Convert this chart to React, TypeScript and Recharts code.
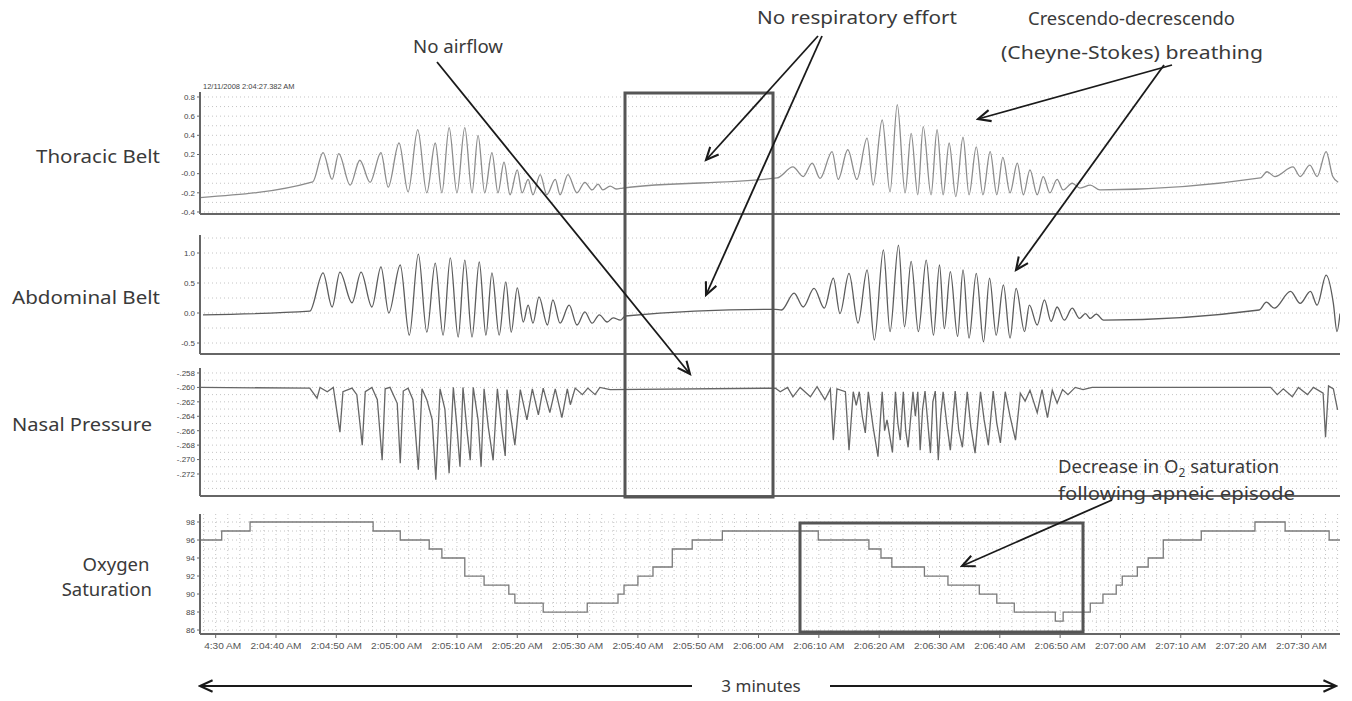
import React from "react";
import { LineChart, Line, XAxis, YAxis, CartesianGrid } from "recharts";

// time axis: seconds after 2:04:00 AM
const T_START = 27.4;
const T_END = 216.4;
const timeTicks = [30, 40, 50, 60, 70, 80, 90, 100, 110, 120, 130, 140, 150, 160, 170, 180, 190, 200, 210];

// [seconds, value]
const thoracic: [number, number][] = [
  [27.4, -0.25], [46.1, -0.085], [47.8, 0.22], [49.3, -0.06], [50.4, 0.21], [52.3, -0.12], [53.9, 0.14],
  [55.6, -0.09], [57.4, 0.22], [58.6, -0.14], [60.4, 0.32], [61.9, -0.19], [63.5, 0.46], [65.0, -0.2],
  [66.4, 0.32], [67.5, -0.2], [68.7, 0.48], [70.0, -0.2], [71.3, 0.48], [72.5, -0.2], [73.5, 0.4],
  [74.6, -0.2], [75.8, 0.22], [76.8, -0.2], [77.8, 0.12], [78.8, -0.22], [80.0, 0.04], [80.8, -0.2],
  [81.8, -0.06], [82.6, -0.22], [83.8, -0.01], [84.9, -0.22], [86.3, -0.06], [87.1, -0.22], [88.4, -0.01],
  [89.9, -0.2], [91.2, -0.09], [92.4, -0.17], [93.4, -0.11], [94.2, -0.17], [95.4, -0.13], [96.4, -0.16],
  [97.5, -0.15], [123.1, -0.045], [125.7, 0.07], [127.4, -0.03], [128.9, 0.11], [130.2, -0.05],
  [132.2, 0.23], [133.2, -0.06], [134.8, 0.25], [136.3, -0.06], [138.0, 0.37], [139.0, -0.12],
  [140.5, 0.56], [141.8, -0.19], [143.0, 0.72], [144.3, -0.2], [145.3, 0.42], [146.4, -0.22],
  [147.3, 0.49], [148.6, -0.22], [149.6, 0.46], [150.6, -0.22], [151.6, 0.32], [152.7, -0.24],
  [153.9, 0.38], [154.9, -0.22], [156.1, 0.28], [157.2, -0.22], [158.4, 0.23], [159.5, -0.22],
  [160.5, 0.17], [161.7, -0.2], [162.9, 0.11], [163.9, -0.22], [165.0, 0.04], [166.2, -0.22],
  [167.2, -0.03], [168.3, -0.2], [169.5, -0.06], [170.5, -0.17], [172.0, -0.1], [173.3, -0.15],
  [175.0, -0.12], [176.6, -0.17], [203.2, -0.045], [204.3, 0.02], [205.6, -0.03], [208.6, 0.07],
  [209.8, -0.03], [211.4, 0.09], [212.6, -0.03], [214.1, 0.23], [215.2, -0.03], [216.1, -0.09],
];

const abdominal: [number, number][] = [
  [27.9, -0.03], [45.6, 0.03], [47.8, 0.67], [49.3, 0.1], [50.6, 0.68], [52.6, 0.17], [54.1, 0.68],
  [55.9, 0.1], [57.4, 0.77], [58.7, 0.0], [60.6, 0.8], [62.1, -0.37], [63.6, 0.98], [65.0, -0.32],
  [66.4, 0.83], [67.7, -0.37], [68.9, 0.92], [70.2, -0.4], [71.3, 0.88], [72.5, -0.4], [73.7, 0.85],
  [74.8, -0.37], [75.8, 0.67], [77.0, -0.37], [78.1, 0.52], [79.0, -0.32], [80.0, 0.42], [81.0, -0.15],
  [81.8, 0.13], [82.6, -0.17], [83.6, 0.27], [85.0, -0.2], [85.9, 0.22], [87.1, -0.17], [88.6, 0.13],
  [89.9, -0.2], [91.2, 0.02], [92.4, -0.17], [93.6, -0.03], [94.9, -0.15], [95.9, -0.08], [97.1, -0.12],
  [97.9, -0.05], [122.8, 0.06], [123.8, 0.05], [125.9, 0.33], [127.4, 0.1], [129.2, 0.41], [130.9, 0.08],
  [132.4, 0.58], [133.5, -0.01], [135.0, 0.66], [136.5, -0.17], [138.0, 0.72], [139.2, -0.45],
  [140.7, 1.05], [141.8, -0.31], [143.2, 1.13], [144.2, -0.23], [145.3, 0.86], [146.5, -0.31],
  [147.8, 0.88], [149.0, -0.37], [150.0, 0.8], [150.8, -0.26], [151.8, 0.69], [153.0, -0.39],
  [153.9, 0.72], [154.9, -0.42], [156.1, 0.66], [157.3, -0.48], [158.3, 0.58], [159.4, -0.37],
  [160.6, 0.47], [161.7, -0.42], [162.7, 0.41], [164.1, -0.31], [164.9, 0.13], [166.2, -0.2],
  [167.4, 0.22], [168.5, -0.14], [169.5, 0.1], [170.7, -0.12], [172.0, 0.08], [173.2, -0.09],
  [174.2, -0.01], [175.0, -0.09], [176.0, -0.02], [177.2, -0.12], [203.0, 0.05], [204.2, 0.18],
  [205.5, 0.08], [208.2, 0.36], [209.8, 0.16], [211.5, 0.36], [212.6, 0.13], [214.1, 0.63],
  [215.3, 0.16], [215.9, -0.31], [216.4, -0.01],
];

const nasal: [number, number][] = [
  [27.4, -0.26], [45.6, -0.2601], [46.8, -0.2615], [47.3, -0.26], [48.5, -0.2606], [49.5, -0.26],
  [50.6, -0.2662], [51.1, -0.2606], [52.6, -0.2601], [53.4, -0.261], [54.3, -0.268], [54.8, -0.2606],
  [55.9, -0.26], [56.8, -0.2617], [57.6, -0.2701], [58.1, -0.2602], [58.9, -0.26], [60.1, -0.2622],
  [60.6, -0.2705], [61.1, -0.2605], [61.9, -0.2601], [62.7, -0.2617], [63.6, -0.2714], [64.2, -0.2602],
  [65.0, -0.2617], [65.9, -0.2645], [66.5, -0.2728], [67.2, -0.2602], [68.0, -0.263], [68.7, -0.2719],
  [69.4, -0.26], [70.0, -0.2655], [70.5, -0.271], [71.0, -0.26], [71.7, -0.2663], [72.2, -0.2701],
  [72.7, -0.26], [73.5, -0.2645], [74.0, -0.271], [74.5, -0.2602], [75.2, -0.2655], [76.0, -0.2701],
  [76.7, -0.2602], [77.5, -0.2663], [78.0, -0.2695], [78.3, -0.2603], [79.6, -0.268], [80.5, -0.2603],
  [81.6, -0.2645], [82.5, -0.2602], [83.5, -0.2638], [84.3, -0.2601], [85.4, -0.2635], [86.3, -0.2602],
  [87.4, -0.2642], [88.3, -0.2602], [88.8, -0.2624], [89.6, -0.2601], [90.8, -0.261], [91.7, -0.2601],
  [92.9, -0.261], [93.7, -0.26], [95.4, -0.2603], [122.8, -0.2601], [123.6, -0.2606], [124.8, -0.26],
  [125.7, -0.2613], [126.9, -0.26], [128.6, -0.2613], [129.7, -0.2599], [131.0, -0.2617], [131.9, -0.2602],
  [132.4, -0.2673], [133.0, -0.2602], [134.4, -0.2606], [135.0, -0.2687], [135.7, -0.2606], [136.2, -0.2625],
  [136.7, -0.2606], [137.2, -0.2640], [137.7, -0.2663], [138.2, -0.2606], [139.0, -0.2655], [139.8, -0.2696],
  [140.5, -0.2606], [140.9, -0.2660], [141.3, -0.2645], [142.2, -0.269], [142.7, -0.2606], [143.1, -0.2650],
  [143.5, -0.2673], [144.0, -0.2606], [144.4, -0.2660], [144.8, -0.2683], [145.6, -0.2606], [146.0, -0.264],
  [146.4, -0.2606], [146.8, -0.2687], [147.2, -0.2630], [147.6, -0.2605], [148.5, -0.2691], [148.9, -0.2620],
  [149.3, -0.2605], [149.8, -0.2701], [150.2, -0.2640], [150.6, -0.2606], [151.2, -0.265], [151.8, -0.2687],
  [152.6, -0.2605], [153.2, -0.2660], [153.8, -0.2683], [154.6, -0.2606], [155.2, -0.2655], [155.9, -0.2691],
  [156.8, -0.2606], [157.4, -0.2645], [158.1, -0.268], [158.9, -0.2605], [159.5, -0.265], [160.1, -0.2677],
  [160.9, -0.2606], [161.7, -0.2640], [162.6, -0.2673], [163.4, -0.2608], [164.2, -0.2619], [165.0, -0.2604],
  [166.2, -0.2635], [167.0, -0.2603], [167.9, -0.2642], [168.7, -0.2604], [169.5, -0.2622], [170.4, -0.2603],
  [171.3, -0.261], [172.5, -0.26], [173.8, -0.2603], [175.3, -0.26], [204.9, -0.26], [206.0, -0.261],
  [207.0, -0.2602], [208.5, -0.2613], [209.5, -0.26], [211.0, -0.261], [212.0, -0.26], [213.6, -0.2608],
  [214.0, -0.2669], [214.5, -0.2598], [215.3, -0.2602], [216.0, -0.2631],
];

// SpO2 steps, value holds until the next point
const oxygen: [number, number][] = [
  [27.4, 96], [31.0, 97], [35.7, 98], [56.1, 97], [60.6, 96], [65.4, 95], [67.5, 94], [71.3, 92],
  [74.5, 91], [78.6, 90], [79.6, 89], [84.3, 88], [91.6, 89], [96.7, 90], [97.7, 91], [100.0, 92],
  [102.5, 93], [105.7, 95], [109.0, 96], [114.0, 97], [129.9, 96], [138.3, 95], [140.3, 94], [142.1, 93],
  [147.5, 92], [151.4, 91], [156.6, 90], [159.5, 89], [162.4, 88], [169.2, 87], [170.5, 88], [175.0, 89],
  [177.1, 90], [179.3, 91], [180.3, 92], [182.8, 93], [184.6, 94], [187.1, 96], [193.4, 97], [202.3, 98],
  [207.3, 97], [214.6, 96], [216.4, 96],
];

const thoracicTicks = [-0.4, -0.2, 0, 0.2, 0.4, 0.6, 0.8];
const abdominalTicks = [-0.5, 0, 0.5, 1.0];
const nasalTicks = [-0.272, -0.27, -0.268, -0.266, -0.264, -0.262, -0.26, -0.258];
const oxygenTicks = [86, 88, 90, 92, 94, 96, 98];

const gridTimes: number[] = [];
for (let t = 28; t <= 216; t += 2) gridTimes.push(t);
const steps = (a: number, b: number, d: number) => {
  const out: number[] = [];
  for (let v = a; v <= b + d / 10; v += d) out.push(+v.toFixed(4));
  return out;
};

const fmtTime = (t: number) => {
  const m = 4 + Math.floor(t / 60);
  const s = Math.round(t % 60);
  return `2:0${m}:${s < 10 ? "0" + s : s} AM`;
};

const TimeTick = (props: any) => {
  const { x, y, payload, index } = props;
  const clip = index === 0 ? "url(#firstTickClip)" : undefined;
  return (
    <g>
      {index === 0 && (
        <defs>
          <clipPath id="firstTickClip">
            <rect x={204} y={y - 4} width={60} height={20} />
          </clipPath>
        </defs>
      )}
      <text x={x} y={y + 9} textAnchor="middle" fontSize={9} fill="#555" clipPath={clip}
        textLength={51} lengthAdjust="spacingAndGlyphs"
        fontFamily="Liberation Sans, Arial, sans-serif">
        {fmtTime(payload.value)}
      </text>
    </g>
  );
};

interface TraceProps {
  rows: [number, number][];
  top: number;
  plotHeight: number;
  domain: [number, number];
  ticks: number[];
  gridY: number[];
  fmt: (v: number) => string;
  stroke: string;
  curve: "monotone" | "linear" | "stepAfter";
  bottomAxis?: boolean;
}

const Trace: React.FC<TraceProps> = ({ rows, top, plotHeight, domain, ticks, gridY, fmt, stroke, curve, bottomAxis }) => {
  const data = rows.map(([t, v]) => ({ t, v }));
  const xh = bottomAxis ? 24 : 1;
  return (
    <div style={{ position: "absolute", left: 0, top: top - 4 }}>
      <LineChart width={1352} height={4 + plotHeight + xh + 2} data={data}
        margin={{ top: 4, right: 12, bottom: 2, left: 0 }}>
        <CartesianGrid stroke="#c4c4c4" strokeDasharray="1 3" verticalValues={gridTimes} horizontalValues={gridY} />
        <XAxis dataKey="t" type="number" domain={[T_START, T_END]} allowDataOverflow ticks={timeTicks}
          height={xh} interval={0}
          axisLine={{ stroke: "#666", strokeWidth: 2 }}
          tickLine={bottomAxis ? { stroke: "#666" } : false} tickSize={4}
          tick={bottomAxis ? <TimeTick /> : false} />
        <YAxis type="number" domain={domain} allowDataOverflow ticks={ticks} tickFormatter={fmt} width={200}
          interval={0} axisLine={{ stroke: "#666", strokeWidth: 2 }} tickLine={{ stroke: "#666" }} tickSize={3}
          tick={{ fontSize: 8, fill: "#444", fontFamily: "Liberation Sans, Arial, sans-serif" }} />
        <Line dataKey="v" type={curve} stroke={stroke} strokeWidth={1.3} dot={false} isAnimationActive={false} />
      </LineChart>
    </div>
  );
};

const font = { fontFamily: "Noto Sans, Open Sans, sans-serif", fontSize: 18.5, fill: "#3a3a3a" };
const label = { ...font, lengthAdjust: "spacingAndGlyphs" };

export default function App() {
  return (
    <div style={{ position: "absolute", left: 0, top: 0, width: 1352, height: 701, background: "#fff", overflow: "hidden" }}>
      <Trace rows={thoracic} top={92} plotHeight={122} domain={[-0.421, 0.852]} ticks={thoracicTicks}
        gridY={steps(-0.4, 0.8, 0.1)} fmt={(v) => (v === 0 ? "-0.0" : v.toFixed(1))} stroke="#8c8c8c" curve="monotone" />
      <Trace rows={abdominal} top={235} plotHeight={119} domain={[-0.683, 1.3]} ticks={abdominalTicks}
        gridY={steps(-0.5, 1.25, 0.25)} fmt={(v) => v.toFixed(1)} stroke="#5c5c5c" curve="monotone" />
      <Trace rows={nasal} top={368} plotHeight={128} domain={[-0.27505, -0.25731]} ticks={nasalTicks}
        gridY={steps(-0.274, -0.258, 0.001)} fmt={(v) => v.toFixed(3).replace("0.", ".")} stroke="#666" curve="linear" />
      <Trace rows={oxygen} top={514} plotHeight={120} domain={[85.56, 98.89]} ticks={oxygenTicks}
        gridY={steps(86, 98, 1)} fmt={(v) => String(v)} stroke="#7a7a7a" curve="stepAfter" bottomAxis />

      <svg width={1352} height={701} style={{ position: "absolute", left: 0, top: 0, pointerEvents: "none" }}>
        <defs>
          <marker id="arr" markerUnits="userSpaceOnUse" markerWidth={16} markerHeight={16} refX={12} refY={6}
            orient="auto-start-reverse" viewBox="0 0 14 12">
            <path d="M1,1 L12,6 L1,11" fill="none" stroke="#1a1a1a" strokeWidth={1.8} />
          </marker>
        </defs>

        <text x={203} y={89} fontSize={7.5} fill="#444" fontFamily="Liberation Sans, Arial, sans-serif">
          12/11/2008 2:04:27.382 AM
        </text>

        <text x={36} y={163} textLength={124} {...label}>Thoracic Belt</text>
        <text x={12} y={304} textLength={148} {...label}>Abdominal Belt</text>
        <text x={12} y={431} textLength={140} {...label}>Nasal Pressure</text>
        <text x={116} y={571} textAnchor="middle" {...font}>Oxygen</text>
        <text x={152} y={596} textAnchor="end" {...font}>Saturation</text>

        <text x={413} y={53} textLength={90} {...label}>No airflow</text>
        <text x={757} y={24} textLength={200} {...label}>No respiratory effort</text>
        <text x={1028} y={25} textLength={207} {...label}>Crescendo-decrescendo</text>
        <text x={1001} y={59} textLength={262} {...label}>(Cheyne-Stokes) breathing</text>
        <text x={1058} y={473} {...font}>
          Decrease in O<tspan fontSize={12} dy={4}>2</tspan><tspan dy={-4}> saturation</tspan>
        </text>
        <text x={1058} y={500} textLength={237} {...label}>following apneic episode</text>
        <text x={761} y={692} textAnchor="middle" {...font} fontSize={17}>3 minutes</text>

        <rect x={625} y={93} width={148} height={404} fill="none" stroke="#555" strokeWidth={3} />
        <rect x={800} y={523} width={283} height={109} fill="none" stroke="#555" strokeWidth={3} />

        <g stroke="#1a1a1a" strokeWidth={1.8}>
          <line x1={437} y1={62} x2={690} y2={374} markerEnd="url(#arr)" />
          <line x1={818} y1={36} x2={706} y2={160} markerEnd="url(#arr)" />
          <line x1={822} y1={36} x2={706} y2={295} markerEnd="url(#arr)" />
          <line x1={1172} y1={65} x2={978} y2={119} markerEnd="url(#arr)" />
          <line x1={1164} y1={65} x2={1016} y2={270} markerEnd="url(#arr)" />
          <line x1={1112} y1={500} x2={962} y2={566} markerEnd="url(#arr)" />
          <line x1={200} y1={686} x2={692} y2={686} markerStart="url(#arr)" />
          <line x1={830} y1={686} x2={1336} y2={686} markerEnd="url(#arr)" />
        </g>
      </svg>
    </div>
  );
}
